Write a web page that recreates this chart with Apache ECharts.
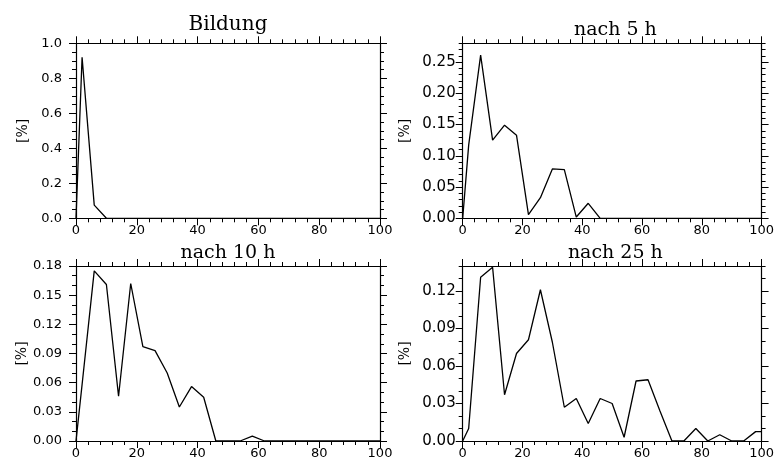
<!DOCTYPE html>
<html><head><meta charset="utf-8">
<script src="https://cdn.jsdelivr.net/npm/echarts@6/dist/echarts.min.js"></script>
<style>html,body{margin:0;padding:0;background:#fff}#c{width:777px;height:465px}</style>
</head><body><div id="c"></div>
<script>
// ---- data ----
const xBins = [0,2,6,10,14,18,22,26,30,34,38,42,46,50,54,58,62,66,70,74,78,82,86,90,94,98,100];
const titles = ['Bildung', 'nach 5 h', 'nach 10 h', 'nach 25 h'];
const valsBildung = [0,0.92,0.075,0,0,0,0,0,0,0,0,0,0,0,0,0,0,0,0,0,0,0,0,0,0,0,0];
const vals5h = [0,0.117,0.261,0.125,0.149,0.133,0.006,0.033,0.079,0.078,0.002,0.024,0,0,0,0,0,0,0,0,0,0,0,0,0,0,0];
const vals10h = [0,0.058,0.175,0.161,0.046,0.162,0.097,0.093,0.070,0.035,0.056,0.045,0,0,0,0.005,0,0,0,0,0,0,0,0,0,0,0];
const vals25h = [0,0.010,0.131,0.139,0.037,0.070,0.081,0.121,0.079,0.027,0.034,0.014,0.034,0.030,0.003,0.048,0.049,0.024,0,0,0.010,0,0.005,0,0,0.0075,0.0075];
const xTicks = [0,20,40,60,80,100];
const yTicksBildung = [0,0.2,0.4,0.6,0.8,1.0];
const yTicks5h = [0,0.05,0.10,0.15,0.20,0.25];
const yTicks10h = [0,0.03,0.06,0.09,0.12,0.15,0.18];
const yTicks25h = [0,0.03,0.06,0.09,0.12];
const yMaxes = [1.0, 0.28, 0.18, 0.14];
const yMinorSteps = [0.05, 0.01, 0.01, 0.01];
const yDecimals = [1, 2, 2, 2];
const yName = '[%]';

// ---- layout ----
const allVals = [valsBildung, vals5h, vals10h, vals25h];
const allYTicks = [yTicksBildung, yTicks5h, yTicks10h, yTicks25h];
const grids = [
  {left: 76, top: 43.3, width: 304, height: 175},
  {left: 462.7, top: 43.3, width: 305.3, height: 175},
  {left: 76, top: 266, width: 304, height: 175},
  {left: 462.7, top: 266, width: 305.3, height: 175}
];
const titleTops = [15, 20.6, 244, 244];
const titleSizes = [20, 19, 19, 19];
const yLabelMargins = [14, 7, 14, 7];
const yLabelSizes = [13, 15, 13, 15];
const yNameGaps = [46, 50, 46, 50];
const xMinorStep = 4;
const ink = '#000';

function minorVals(max, step) {
  const out = [];
  const n = Math.round(max / step);
  for (let i = 0; i <= n; i++) out.push(+(i * step).toFixed(6));
  return out;
}

function axis(gridIndex, position, max, tickVals, len, showLine) {
  return {
    type: 'value', gridIndex, position, min: 0, max,
    axisLine: {show: showLine, onZero: false, lineStyle: {color: ink, width: 1.2}},
    axisTick: {show: true, inside: false, length: len, customValues: tickVals, lineStyle: {color: ink, width: 1}},
    axisLabel: {show: false},
    splitLine: {show: false},
    minorTick: {show: false}
  };
}

const xAxes = [], yAxes = [], series = [], titleOpts = [];
for (let p = 0; p < 4; p++) {
  const xMinor = minorVals(100, xMinorStep);
  const yMinor = minorVals(yMaxes[p], yMinorSteps[p]);
  // x axes: bottom major (labels), bottom minor, top major, top minor
  const xb = axis(p, 'bottom', 100, xTicks, 7, true);
  xb.axisLabel = {show: true, customValues: xTicks, margin: 6, color: ink,
    fontFamily: 'DejaVu Sans', fontSize: 13, formatter: v => String(v)};
  xAxes.push(xb, axis(p, 'bottom', 100, xMinor, 4, false),
             axis(p, 'top', 100, xTicks, 7, true), axis(p, 'top', 100, xMinor, 4, false));
  const yl = axis(p, 'left', yMaxes[p], allYTicks[p], 7, true);
  const dec = yDecimals[p];
  yl.axisLabel = {show: true, customValues: allYTicks[p], margin: yLabelMargins[p], color: ink,
    fontFamily: 'DejaVu Sans', fontSize: yLabelSizes[p], formatter: v => v.toFixed(dec)};
  yl.name = yName;
  yl.nameLocation = 'middle';
  yl.nameGap = yNameGaps[p];
  yl.nameTextStyle = {fontFamily: 'DejaVu Serif', fontSize: 14, color: ink};
  yAxes.push(yl, axis(p, 'left', yMaxes[p], yMinor, 4, false),
             axis(p, 'right', yMaxes[p], allYTicks[p], 7, true), axis(p, 'right', yMaxes[p], yMinor, 4, false));
  series.push({
    type: 'line', xAxisIndex: p * 4, yAxisIndex: p * 4,
    data: xBins.map((x, i) => [x, allVals[p][i]]),
    symbol: 'none', showSymbol: false, silent: true,
    lineStyle: {color: ink, width: 1.3}
  });
  const g = grids[p];
  titleOpts.push({
    text: titles[p], left: g.left + g.width / 2, top: titleTops[p], textAlign: 'center', padding: 0,
    textStyle: {fontFamily: 'DejaVu Serif', fontSize: titleSizes[p], fontWeight: 'normal', color: ink}
  });
}

const chart = echarts.init(document.getElementById('c'), null, {renderer: 'canvas'});
chart.setOption({
  backgroundColor: '#fff',
  animation: false,
  title: titleOpts,
  grid: grids.map(g => Object.assign({containLabel: false}, g)),
  xAxis: xAxes,
  yAxis: yAxes,
  series
});
</script></body></html>
